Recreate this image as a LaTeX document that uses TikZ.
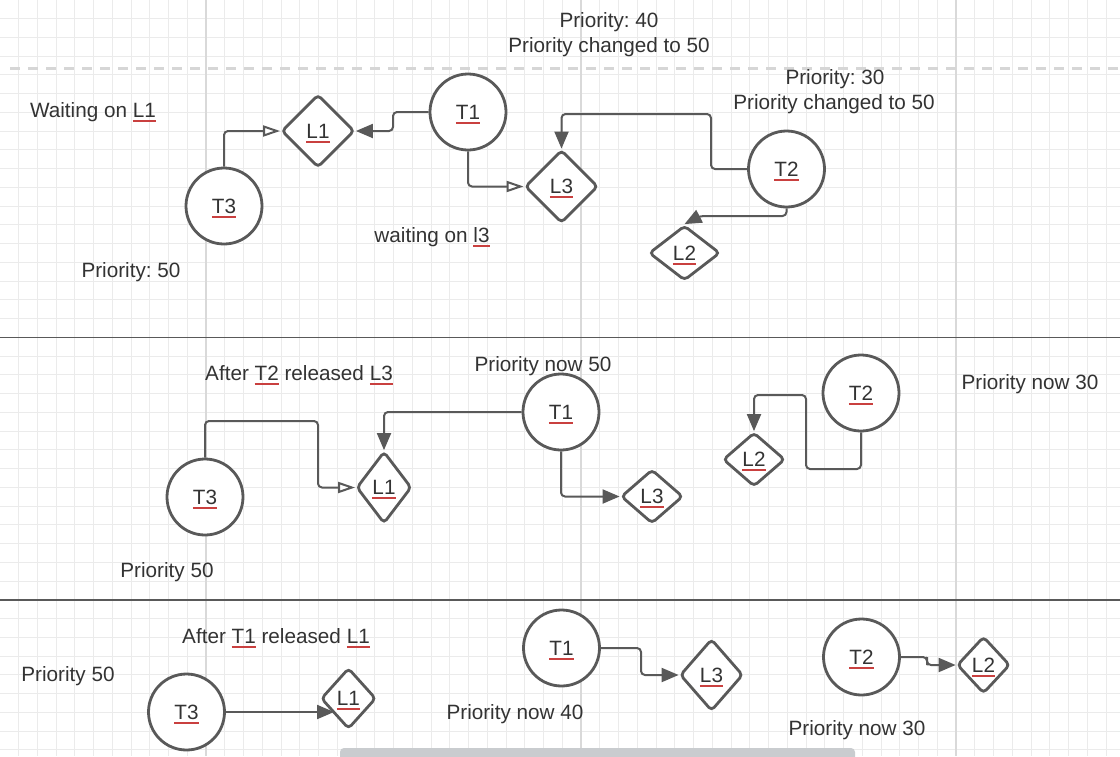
\documentclass[tikz,border=0pt]{standalone}
\usepackage{fontspec}
\setmainfont{Liberation Sans}
\usetikzlibrary{shapes.geometric,arrows.meta}
\definecolor{ink}{HTML}{595959}
\definecolor{txt}{HTML}{333333}
\definecolor{ulred}{HTML}{C9403F}
\definecolor{gridminor}{HTML}{EBEBEB}
\definecolor{gridmajor}{HTML}{D9D9D9}
\definecolor{dashgray}{HTML}{D6D6D6}
\definecolor{scrollgray}{HTML}{C9CCCF}
\frenchspacing
\newcommand\redul[1]{{\setbox0\hbox{#1}\rlap{\color{ulred}\rule[-4.5pt]{\wd0}{2pt}}\box0}}
\tikzset{
  lbl/.style={text=txt, font=\fontsize{20.7}{24}\selectfont, inner sep=0pt, text height=14.8pt, text depth=0pt},
  task/.style={circle, draw=ink, line width=2.8pt, fill=white, minimum size=76pt, inner sep=0pt, lbl},
  lock/.style={diamond, draw=ink, line width=2.8pt, fill=white, rounded corners=4pt, inner sep=0pt, lbl},
  conn/.style={draw=ink, line width=2pt, rounded corners=4pt},
  solidarr/.style={-{Triangle[length=17pt,width=14pt]}},
  openarr/.style={-{Triangle[length=17pt,width=11pt,fill=white]}},
  minorline/.style={draw=gridminor, line width=1pt},
  majorline/.style={draw=gridmajor, line width=1.6pt},
  sepline/.style={draw=ink, line width=1.6pt},
}
\begin{document}
\begin{tikzpicture}[x=1pt,y=-1pt]
\useasboundingbox (0,0) rectangle (1120,756);
\fill[white] (0,0) rectangle (1120,756);
% grid
\foreach \k in {0,...,59} \draw[minorline] ({18.5+18.75*\k},0) -- ++(0,756);
\foreach \k in {0,...,40} \draw[minorline] (0,{18.5+18.75*\k}) -- ++(1120,0);
\foreach \x in {206,581,956} \draw[majorline] (\x,0) -- ++(0,756);
% page break dashed line and separators
\draw[dashgray, line width=3pt, dash pattern=on 10pt off 8pt] (10,68) -- (1120,68);
\draw[sepline] (0,337.5) -- (1120,337.5);
\draw[sepline] (0,600) -- (1120,600);
\fill[scrollgray, rounded corners=4pt] (340,748) rectangle (855,764);

% ---------- section 1 ----------
\node[lbl] (p40) at (609,20) {Priority: 40};
\node[lbl] (p40c) at (609,45) {Priority changed to 50};
\node[lbl] (w1) at (93,110) {Waiting on \redul{L1}};
\node[lbl] (p30) at (835,77) {Priority: 30};
\node[lbl] (p30c) at (834,102) {Priority changed to 50};
\node[lbl] (w3) at (432,235) {waiting on \redul{l3}};
\node[lbl] (p50a) at (131,270) {Priority: 50};

\node[task] (s1t3) at (224,206) {\redul{T3}};
\node[lock, minimum width=73pt, minimum height=73pt] (s1l1) at (318,131) {\redul{L1}};
\node[task] (s1t1) at (468,112) {\redul{T1}};
\node[lock, minimum width=73pt, minimum height=73pt] (s1l3) at (561.5,186.5) {\redul{L3}};
\node[task] (s1t2) at (786.5,169) {\redul{T2}};
\node[lock, minimum width=71pt, minimum height=55pt] (s1l2) at (684.5,253) {\redul{L2}};

\coordinate (c1a) at (393,131);
\coordinate (c1b) at (711,114);
\coordinate (c1c) at (700,216);
\draw[conn,openarr] (s1t3.north) |- (s1l1.west);
\draw[conn,solidarr] (s1t1.west) -| (c1a) -- (s1l1.east);
\draw[conn,openarr] (s1t1.south) |- (s1l3.west);
\draw[conn,solidarr] (s1t2.west) -| (c1b) -| (s1l3.north);
\draw[conn,solidarr] (s1t2.south) |- (c1c) -- (s1l2.north);

% ---------- section 2 ----------
\node[lbl] (a2) at (299,373) {After \redul{T2} released \redul{L3}};
\node[lbl] (pn50) at (543,364) {Priority now 50};
\node[lbl] (pn30a) at (1030,382) {Priority now 30};
\node[lbl] (p50b) at (167,570) {Priority 50};

\node[task] (s2t3) at (205,497) {\redul{T3}};
\node[lock, minimum width=55pt, minimum height=72pt] (s2l1) at (384,487.5) {\redul{L1}};
\node[task] (s2t1) at (561,412) {\redul{T1}};
\node[lock, minimum width=62pt, minimum height=54pt] (s2l3) at (652,496.5) {\redul{L3}};
\node[task] (s2t2) at (861,393) {\redul{T2}};
\node[lock, minimum width=62pt, minimum height=54pt] (s2l2) at (754,459.5) {\redul{L2}};

\coordinate (c2a) at (318,421);
\coordinate (c2b) at (806,469);
\coordinate (c2c) at (806,395);
\draw[conn,openarr] (s2t3.north) |- (c2a) |- (s2l1.west);
\draw[conn,solidarr] (s2t1.west) -| (s2l1.north);
\draw[conn,solidarr] (s2t1.south) |- (s2l3.west);
\draw[conn,solidarr] (s2t2.south) |- (c2b) -- (c2c) -| (s2l2.north);

% ---------- section 3 ----------
\node[lbl] (a3) at (276,636) {After \redul{T1} released \redul{L1}};
\node[lbl] (p50c) at (68,674) {Priority 50};
\node[lbl] (pn40) at (515,712) {Priority now 40};
\node[lbl] (pn30b) at (857,728) {Priority now 30};

\node[task] (s3t3) at (186.5,712) {\redul{T3}};
\node[lock, minimum width=55pt, minimum height=61pt] (s3l1) at (348.5,698.5) {\redul{L1}};
\node[task] (s3t1) at (561.5,648) {\redul{T1}};
\node[lock, minimum width=63pt, minimum height=72pt] (s3l3) at (711.5,675) {\redul{L3}};
\node[task] (s3t2) at (861.5,657) {\redul{T2}};
\node[lock, minimum width=53pt, minimum height=57pt] (s3l2) at (983.5,665) {\redul{L2}};

\coordinate (c3a) at (641,660);
\coordinate (c3b) at (927,661);
\draw[conn,solidarr] (s3t3.east) -- (s3t3.east -| s3l1.south west);
\draw[conn,solidarr] (s3t1.east) -| (c3a) |- (s3l3.west);
\draw[conn,solidarr] (s3t2.east) -| (c3b) |- (s3l2.west);
\end{tikzpicture}
\end{document}
